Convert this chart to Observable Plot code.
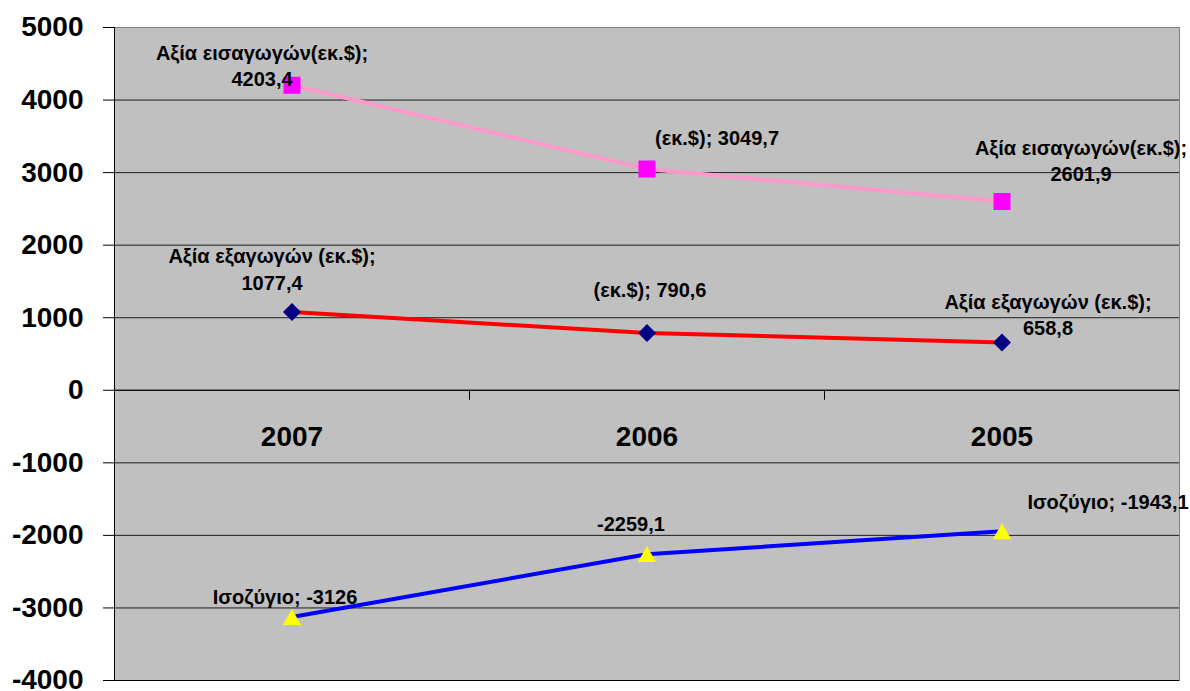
<!DOCTYPE html>
<html><head><meta charset="utf-8">
<script src="https://cdn.jsdelivr.net/npm/d3@7"></script>
<script src="https://cdn.jsdelivr.net/npm/@observablehq/plot@0.6"></script>
<style>body{margin:0;background:#fff;} #chart svg{display:block;}</style>
</head><body><div id="chart"></div>
<script>
// ---- data ----
const years = ["2007", "2006", "2005"];
const importsValues = [4203.4, 3049.7, 2601.9];
const exportsValues = [1077.4, 790.6, 658.8];
const balanceValues = [-3126, -2259.1, -1943.1];
const seriesNames = ["Αξία εισαγωγών(εκ.$)", "Αξία εξαγωγών (εκ.$)", "Ισοζύγιο"];
const importsLabels = ["Αξία εισαγωγών(εκ.$);\n4203,4", "(εκ.$); 3049,7", "Αξία εισαγωγών(εκ.$);\n2601,9"];
const exportsLabels = ["Αξία εξαγωγών (εκ.$);\n1077,4", "(εκ.$); 790,6", "Αξία εξαγωγών (εκ.$);\n658,8"];
const balanceLabels = ["Ισοζύγιο; -3126", "-2259,1", "Ισοζύγιο; -1943,1"];
const yTicks = [-4000, -3000, -2000, -1000, 0, 1000, 2000, 3000, 4000, 5000];

// ---- layout / style ----
const W = 1190, H = 691;
const mL = 114, mR = 11, mT = 27, mB = 11;
const bw = (W - mL - mR) / years.length;
const yMin = -4000, yMax = 5000;
const pxPerUnit = (H - mT - mB) / (yMax - yMin);

const series = [
  {name: seriesNames[0], values: importsValues, labels: importsLabels, line: "#FF99CC", fill: "#FF00FF", symbol: d3.symbolSquare, r: 9.6, sdy: 0,
   offsets: [[-30, -21], [70, -33], [79, -42]]},
  {name: seriesNames[1], values: exportsValues, labels: exportsLabels, line: "#FF0000", fill: "#000080", symbol: d3.symbolDiamond2, r: 8.1, sdy: 0,
   offsets: [[-20, -44], [3, -44], [46, -29]]},
  {name: seriesNames[2], values: balanceValues, labels: balanceLabels, line: "#0000FF", fill: "#FFFF00", symbol: d3.symbolTriangle, r: 6.8, sdy: 2.6,
   offsets: [[-7, -22], [-16, -32], [106, -31]]}
];

const marks = [
  Plot.frame({fill: "#C0C0C0"}),
  Plot.gridY(yTicks, {stroke: "#000", strokeOpacity: 0.85, strokeWidth: 1}),
  Plot.frame({stroke: "#808080", strokeWidth: 1}),
  Plot.ruleY([0], {stroke: "#000", strokeWidth: 1}),
  Plot.ruleY([yMin], {stroke: "#000", strokeWidth: 1}),
  Plot.ruleX([years[0]], {x: d => d, dx: -bw / 2, stroke: "#000", strokeWidth: 1}),
  Plot.ruleX(years.slice(1), {x: d => d, dx: -bw / 2, y1: 0, y2: -10 / pxPerUnit, stroke: "#000", strokeWidth: 1}),
  Plot.axisY(yTicks, {tickSize: 11, tickPadding: 20, tickFormat: d => String(d), fontSize: 28, fontWeight: "bold", label: null, stroke: "#000", fill: "#000"}),
  Plot.text(years, {x: d => d, y: () => 0, dy: 47, text: d => d, fontSize: 28, fontWeight: "bold", fill: "#000"})
];

for (const s of series) {
  const rows = years.map((y, i) => ({year: y, value: s.values[i], label: s.labels[i], series: s.name}));
  marks.push(Plot.line(rows, {x: "year", y: "value", stroke: s.line, strokeWidth: 4, curve: "linear"}));
}
for (const s of series) {
  const rows = years.map((y, i) => ({year: y, value: s.values[i], label: s.labels[i], series: s.name}));
  marks.push(Plot.dot(rows, {x: "year", y: "value", symbol: () => s.symbol, r: s.r, dy: s.sdy, fill: s.fill, stroke: "none"}));
  rows.forEach((row, i) => {
    marks.push(Plot.text([row], {x: "year", y: "value", text: "label", dx: s.offsets[i][0], dy: s.offsets[i][1],
      fontSize: 20, fontWeight: "bold", fill: "#000", lineHeight: 1.33, textAnchor: "middle"}));
  });
}

const chart = Plot.plot({
  width: W, height: H,
  marginLeft: mL, marginRight: mR, marginTop: mT, marginBottom: mB,
  style: {fontFamily: "'Liberation Sans', Arial, sans-serif", background: "#fff", color: "#000", overflow: "visible"},
  x: {type: "band", domain: years, padding: 0, axis: null},
  y: {domain: [yMin, yMax], axis: null},
  symbol: {type: "identity"},
  marks
});
document.getElementById("chart").appendChild(chart);
</script>
</body></html>
